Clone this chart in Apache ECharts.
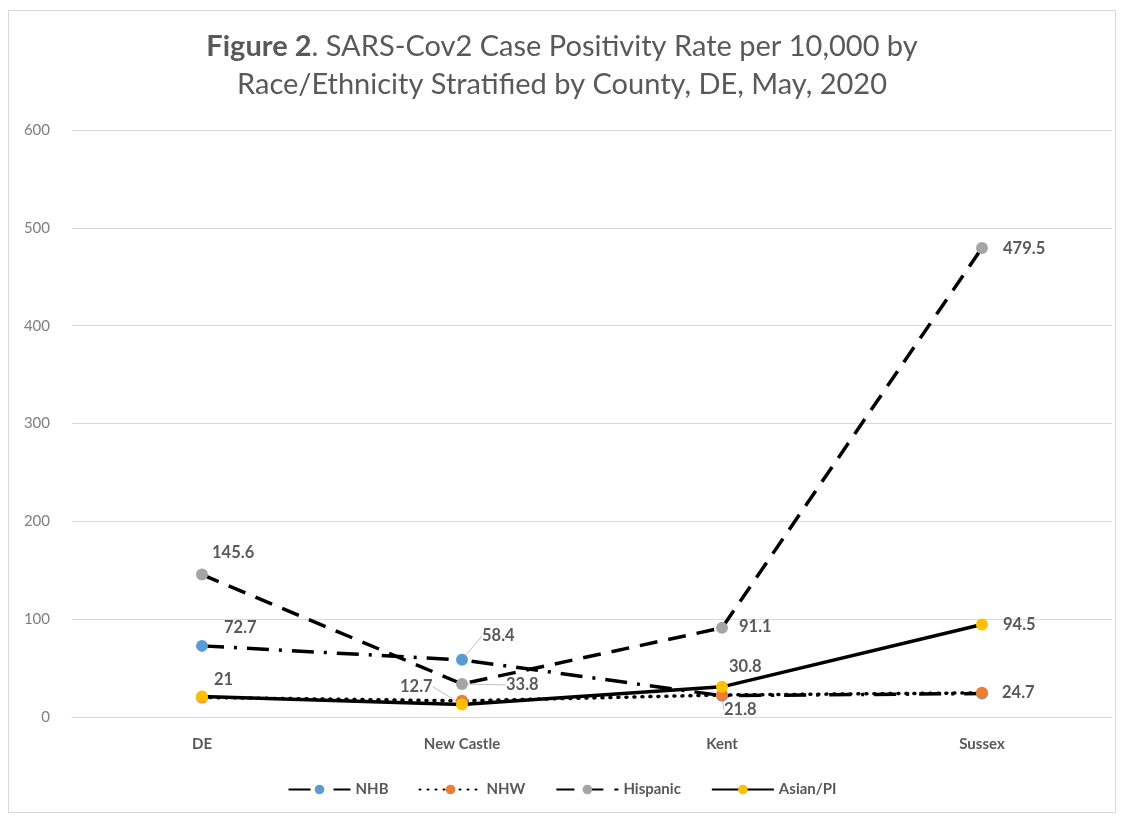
<!DOCTYPE html>
<html>
<head>
<meta charset="utf-8">
<title>SARS-Cov2 Case Positivity Rate by Race/Ethnicity and County</title>
<script src="https://cdn.jsdelivr.net/npm/echarts@6/dist/echarts.min.js"></script>
<style>
  html, body { margin: 0; padding: 0; background: #fff; }
  #frame { position: absolute; left: 8px; top: 10px; width: 1108px; height: 803px; border: 1px solid #d9d9d9; box-sizing: border-box; }
  #chart { width: 1124px; height: 818px; }
</style>
</head>
<body>
<div id="frame"></div>
<div id="chart"></div>
<script>
// Counties on the x axis
const counties = ['DE', 'New Castle', 'Kent', 'Sussex'];

// Case positivity rate per 10,000, by race/ethnicity
const nhb      = [72.7, 58.4, 21.8, 24.0];
const nhw      = [20.0, 16.5, 22.5, 24.7];
const hispanic = [145.6, 33.8, 91.1, 479.5];
const asianPI  = [21, 12.7, 30.8, 94.5];

// Value-axis ticks
const yTicks = [0, 100, 200, 300, 400, 500, 600];

const labelGray = '#595959';
const FONT = 'Lato, "Open Sans", sans-serif';

// Which points carry a value label: [dx, dy] from the marker, and whether a leader line is drawn
const labelPlacement = {
  NHB:        { 0: [16, -18], 1: [14, -24, true], 2: [-4, 14, true] },
  NHW:        { 3: [14, 0] },
  Hispanic:   { 0: [4, -22], 1: [38, 1, true], 2: [11, -1], 3: [15, 1] },
  'Asian/PI': { 0: [6, -17], 1: [-68, -18, true], 2: [1, -20], 3: [15, 0] }
};

function buildData(name, values) {
  const spots = labelPlacement[name];
  return values.map((v, i) => {
    const spot = spots[i];
    if (!spot) return { value: v, label: { show: false } };
    return {
      value: v,
      label: { show: true, formatter: String(v) },
      labelLine: { show: !!spot[2] }
    };
  });
}

function lineSeries(name, values, color, dash, cap) {
  const spots = labelPlacement[name];
  return {
    name: name,
    type: 'line',
    data: buildData(name, values),
    symbol: 'circle',
    symbolSize: 12,
    itemStyle: { color: color },
    lineStyle: { color: '#000', width: 3.5, type: dash, cap: cap || 'butt' },
    label: {
      show: true,
      position: 'right',
      distance: 0,
      color: labelGray,
      fontFamily: FONT,
      fontWeight: 'bold',
      fontSize: 16.5
    },
    labelLine: { show: false, lineStyle: { color: '#bfbfbf', width: 1 } },
    labelLayout: function (p) {
      const s = spots[p.dataIndex];
      return s ? { dx: s[0], dy: s[1] } : {};
    },
    emphasis: { disabled: true },
    animation: false
  };
}

const chart = echarts.init(document.getElementById('chart'));

chart.setOption({
  backgroundColor: 'transparent',
  title: {
    text: '{b|Figure 2}. SARS-Cov2 Case Positivity Rate per 10,000 by\nRace/Ethnicity Stratified by County, DE, May, 2020',
    left: 'center',
    top: 23,
    textStyle: {
      color: labelGray,
      fontFamily: FONT,
      fontSize: 29,
      fontWeight: 'normal',
      lineHeight: 38,
      rich: {
        b: { fontWeight: 'bold', fontSize: 29, color: labelGray, fontFamily: FONT }
      }
    }
  },
  grid: { left: 72, right: 12, top: 130, bottom: 101 },
  xAxis: {
    type: 'category',
    data: counties,
    boundaryGap: true,
    axisLine: { show: true, lineStyle: { color: '#d9d9d9', width: 1 } },
    axisTick: { show: false },
    axisLabel: {
      color: labelGray,
      fontFamily: FONT,
      fontWeight: 'bold',
      fontSize: 15,
      margin: 20
    }
  },
  yAxis: {
    type: 'value',
    min: yTicks[0],
    max: yTicks[yTicks.length - 1],
    interval: yTicks[1] - yTicks[0],
    axisLine: { show: false },
    axisTick: { show: false },
    splitLine: { lineStyle: { color: '#d9d9d9', width: 1 } },
    axisLabel: {
      color: '#7f7f7f',
      fontFamily: FONT,
      fontSize: 15,
      margin: 22
    }
  },
  legend: {
    bottom: 16,
    left: 'center',
    itemWidth: 62,
    itemHeight: 12,
    itemGap: 30,
    textStyle: {
      color: labelGray,
      fontFamily: FONT,
      fontWeight: 'bold',
      fontSize: 15
    },
    data: ['NHB', 'NHW', 'Hispanic', 'Asian/PI']
  },
  series: [
    lineSeries('NHB', nhb, '#5B9BD5', [22, 10, 3, 10]),
    lineSeries('NHW', nhw, '#ED7D31', [1, 7], 'round'),
    lineSeries('Hispanic', hispanic, '#A5A5A5', [18, 11]),
    lineSeries('Asian/PI', asianPI, '#FFC000', 'solid')
  ]
});
</script>
</body>
</html>
